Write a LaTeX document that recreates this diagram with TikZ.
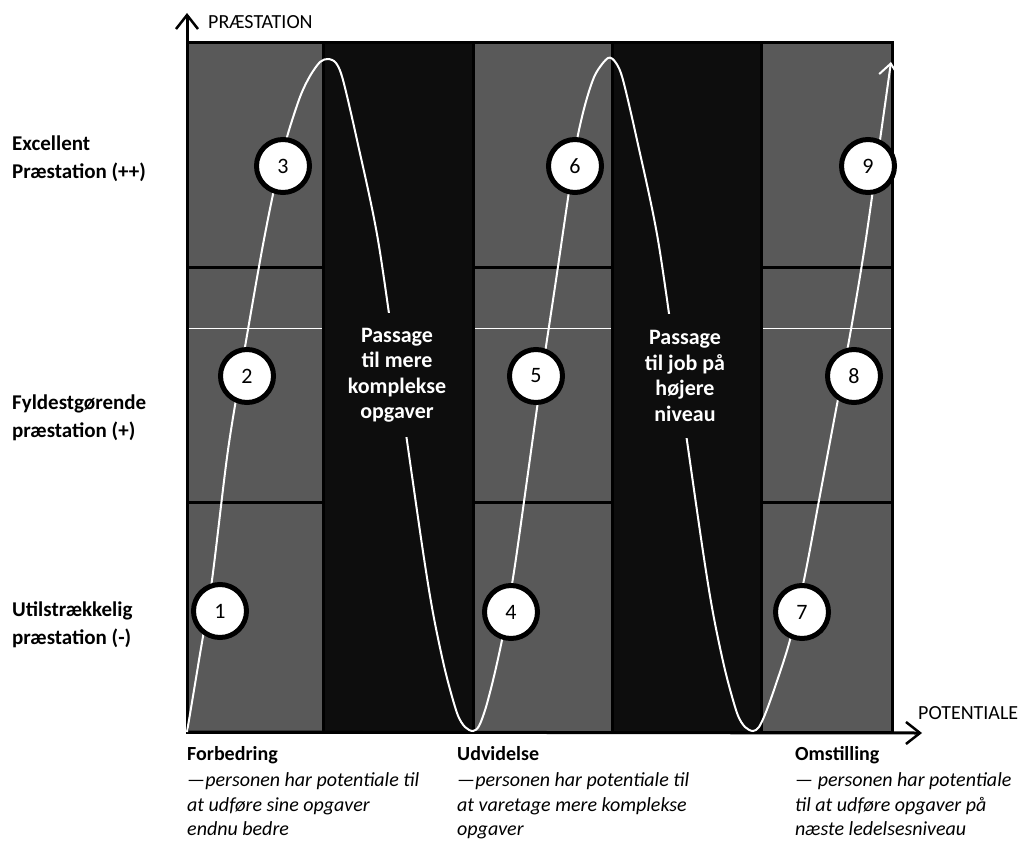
\documentclass[tikz,border=0pt]{standalone}
\usepackage{fontspec}
\setmainfont{Carlito}
\usetikzlibrary{arrows.meta}
\definecolor{cellgray}{HTML}{595959}
\definecolor{colblack}{HTML}{0D0D0D}
\begin{document}
\begin{tikzpicture}[x=1pt,y=-1pt,
  cell/.style={fill=cellgray, draw=black, line width=3pt},
  passcol/.style={fill=colblack, draw=black, line width=3pt},
  sepline/.style={draw=white, line width=1pt},
  num/.style={circle, fill=white, draw=black, line width=5pt, minimum size=53pt, inner sep=0pt, font=\fontsize{22}{22}\selectfont},
  lab/.style={font=\fontsize{21}{28}\selectfont\bfseries, align=left, anchor=west, inner sep=0pt},
  passtext/.style={fill=colblack, text=white, font=\fontsize{22}{25.5}\selectfont\bfseries, align=center, minimum height=124pt, inner xsep=3pt, inner ysep=0pt},
  axis/.style={draw=black, line width=3pt, -{Straight Barb[length=14pt,width=22pt,line width=2.5pt]}},
  axlab/.style={font=\fontsize{20}{24}\selectfont, anchor=west, inner sep=0pt},
  desc/.style={font=\fontsize{20}{24.5}\selectfont, align=left, anchor=north west, inner sep=0pt},
  curve/.style={draw=white, line width=2pt, -{Straight Barb[length=12pt,width=20pt,line width=2pt]}}
]
\useasboundingbox (0,0) rectangle (1027,843);

% columns
\foreach \xa/\xb in {187/323, 473/612, 761/892} {
  \foreach \ya/\yb in {43/267, 267/502, 502/732} {
    \path[cell] (\xa,\ya) rectangle (\xb,\yb);
  }
  \draw[sepline] (\xa+1.5,328) -- (\xb-1.5,328);
}
\path[passcol] (323,43) rectangle (473,732);
\path[passcol] (612,43) rectangle (761,732);

% axes
\coordinate (O) at (187,732);
\coordinate (ytip) at (187,13);
\coordinate (xtip) at (922,733);
\draw[axis] (O) -- (ytip);
\draw[axis] (O) -- (xtip);
\node[axlab] (ylab) at (208,22) {PRÆSTATION};
\node[axlab] (xlab) at (918,713) {POTENTIALE};

% curve
\draw[curve] plot[smooth, tension=0.5] coordinates {
 (187,732) (199,660) (212,580) (228,450) (245,347) (262,250) (275,185) (287,137)
 (300,97) (310,76) (320,62) (328,59) (336,63) (343,80) (357,140) (378,240)
 (400,392) (422,545) (433,613) (445,670) (457,713) (465,727) (473,731)
 (479,726) (486,707) (495,672) (505,625) (515,565) (527,480) (541,380)
 (556,280) (567,205) (576,145) (585,105) (595,75) (608,58) (616,63) (623,80)
 (637,140) (658,240) (680,392) (702,545) (713,613) (725,670) (737,713)
 (745,727) (753,731) (759,727) (766,712) (776,684) (790,640) (805,575)
 (820,495) (835,415) (850,335) (865,245) (880,140) (891,62)};

% passage labels
\node[passtext] (pass1) at (397,375) {Passage\\til mere\\komplekse\\opgaver};
\node[passtext] (pass2) at (685,376) {Passage\\til job på\\højere\\niveau};

% numbered circles
\node[num] (c1) at (220,611) {1};
\node[num] (c2) at (247,376) {2};
\node[num] (c3) at (283,166) {3};
\node[num] (c4) at (511,612) {4};
\node[num] (c5) at (536,376) {5};
\node[num] (c6) at (575,166) {6};
\node[num] (c7) at (802,612) {7};
\node[num] (c8) at (854,376) {8};
\node[num] (c9) at (868,166) {9};

% level labels
\node[lab] (l3) at (12,159) {Excellent\\Præstation (++)};
\node[lab] (l2) at (12,418) {Fyldestgørende\\præstation (+)};
\node[lab] (l1) at (12,625) {Utilstrækkelig\\præstation (-)};

% bottom descriptions
\node[desc] (d1) at (187,746) {\textbf{Forbedring}\\[2pt]\textit{—personen har potentiale til}\\\textit{at udføre sine opgaver}\\\textit{endnu bedre}};
\node[desc] (d2) at (457,746) {\textbf{Udvidelse}\\[2pt]\textit{—personen har potentiale til}\\\textit{at varetage mere komplekse}\\\textit{opgaver}};
\node[desc] (d3) at (795,746) {\textbf{Omstilling}\\[2pt]\textit{— personen har potentiale}\\\textit{til at udføre opgaver på}\\\textit{næste ledelsesniveau}};
\end{tikzpicture}
\end{document}
